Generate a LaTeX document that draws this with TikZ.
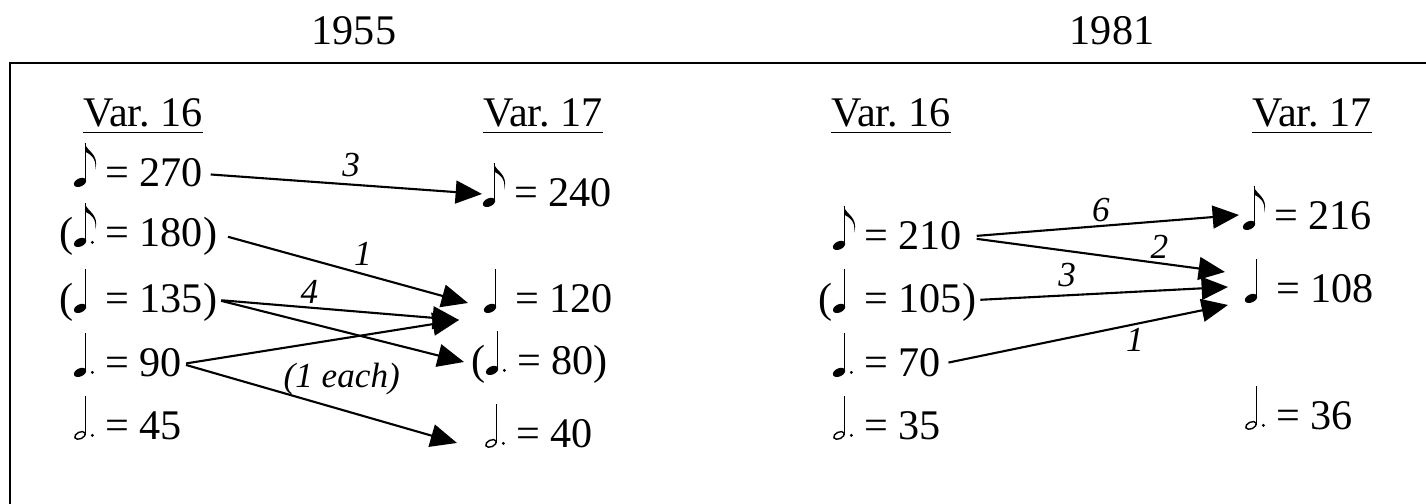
\documentclass[tikz,border=0pt]{standalone}
\usepackage{fontspec}
\setmainfont{Liberation Serif}
\usetikzlibrary{arrows.meta,calc}
\frenchspacing

\tikzset{notepic/.style={x=1pt,y=1pt,baseline=0pt,line width=0.35pt}}
\newcommand{\nBox}{\path[use as bounding box] (0,0) rectangle (6,1);
  \draw (3.35,1.4) -- (3.35,12.4);}
\newcommand{\nFill}{\fill[rotate around={25:(1.8,1.3)}] (1.8,1.3) ellipse (1.85pt and 1.15pt);}
\newcommand{\nOpen}{\draw[line width=0.4pt,rotate around={25:(1.8,1.3)}] (1.8,1.3) ellipse (1.6pt and 0.95pt);}
\newcommand{\nFlag}{\fill (3.2,12.4) .. controls (3.6,10.2) and (7.4,9.4) .. (6.1,5.0)
  .. controls (6.6,8.2) and (4.6,9.4) .. (3.35,10.0) -- cycle;}
\newcommand{\nDot}{\fill (5.3,1.3) circle (0.45pt);}
\newcommand{\eN}{\tikz[notepic]{\nBox\nFill\nFlag}}
\newcommand{\eNd}{\tikz[notepic]{\nBox\nFill\nFlag\nDot}}
\newcommand{\qN}{\tikz[notepic]{\nBox\nFill}}
\newcommand{\qNd}{\tikz[notepic]{\nBox\nFill\nDot}}
\newcommand{\hNd}{\tikz[notepic]{\nBox\nOpen\nDot}}

\begin{document}
\begin{tikzpicture}[
  x=0.01cm, y=-0.01cm,
  font=\fontsize{12}{14}\selectfont,
  row/.style={inner sep=0pt, text height=7.4pt, text depth=0pt, anchor=base west},
  head/.style={anchor=base},
  lbl/.style={font=\fontsize{10}{12}\selectfont\itshape, inner sep=1pt},
  arr/.style={line width=0.6pt, -{Triangle[length=7.5pt,width=6.5pt]}},
  frame/.style={line width=0.8pt}
]
\useasboundingbox (0,0) rectangle (1426,504);
\draw[frame] (10,504) |- (1426,63);

\node[head] (y1955) at (354,45) {1955};
\node[head] (y1981) at (1112,45) {1981};
\node[head] (v16a) at (143,127) {\underline{Var. 16}};
\node[head] (v17a) at (543,127) {\underline{Var. 17}};
\node[head] (v16b) at (891,127) {\underline{Var. 16}};
\node[head] (v17b) at (1312,127) {\underline{Var. 17}};

\node[row] (r270) at (73,187) {\eN{} = 270};
\node[row] (r180) at (59,247) {(\eNd{} = 180)};
\node[row] (r135) at (59,313) {(\qN{} = 135)};
\node[row] (r90) at (73,377) {\qNd{} = 90};
\node[row] (r45) at (73,440) {\hNd{} = 45};

\node[row] (s240) at (482,207) {\eN{} = 240};
\node[row] (s120) at (483,313) {\qN{} = 120};
\node[row] (s80) at (471,375) {(\qNd{} = 80)};
\node[row] (s40) at (484,448) {\hNd{} = 40};

\node[row] (t210) at (832,250) {\eN{} = 210};
\node[row] (t105) at (818,313) {(\qN{} = 105)};
\node[row] (t70) at (832,377) {\qNd{} = 70};
\node[row] (t35) at (832,440) {\hNd{} = 35};

\node[row] (u216) at (1242,230) {\eN{} = 216};
\node[row] (u108) at (1244,303) {\qN{} = 108};
\node[row] (u36) at (1244,430) {\hNd{} = 36};

\draw[arr, shorten <=2pt] (r270.east) -- node[lbl, above=1pt, pos=.53] (l3a) {3} (s240.west);
\draw[arr, shorten <=3pt] (r180.east) -- node[lbl, above=1pt, pos=.58] (l1a) {1} ($(s120.west)+(-15,3)$);
\draw[arr, shorten <=1pt] (r135.east) -- node[lbl, above=0pt, pos=.38] (l4a) {4} ($(s120.west)+(-24,20)$);
\draw[arr, shorten <=1pt] (r135.east) -- ($(s80.west)+(-7,0)$);
\draw[arr, shorten <=1pt] (r90.east) -- ($(s120.west)+(-24,20)$);
\draw[arr, shorten <=1pt] (r90.east) -- node[lbl, above=3pt, pos=.58] (l1e) {(1 each)} ($(s40.west)+(-27,8)$);

\draw[arr, shorten <=4pt] (t210.east) -- node[lbl, above=0pt, pos=.5] (l6b) {6} ($(u216.west)+(-3,-2)$);
\draw[arr, shorten <=4pt] (t210.east) -- node[lbl, above=0pt, pos=.75] (l2b) {2} ($(u108.west)+(-19,-18)$);
\draw[arr, shorten <=1pt] (t105.east) -- node[lbl, above=1pt, pos=.36] (l3b) {3} ($(u108.west)+(-16,-3)$);
\draw[arr, shorten <=2pt] (t70.east) -- node[lbl, below=0pt, pos=.675] (l1b) {1} ($(u108.west)+(-16,15)$);
\end{tikzpicture}
\end{document}
